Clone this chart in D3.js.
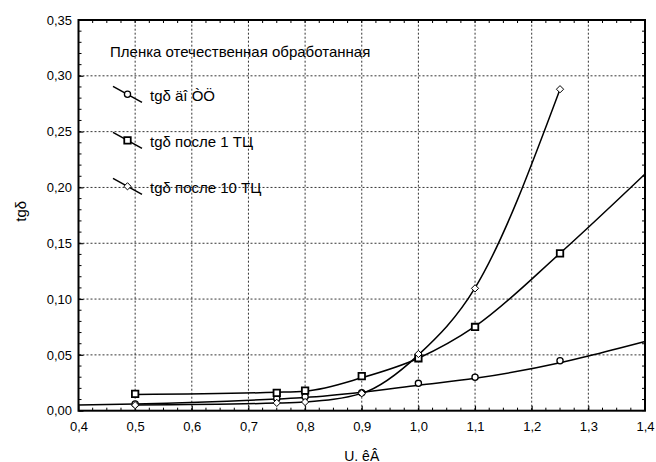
<!DOCTYPE html>
<html>
<head>
<meta charset="utf-8">
<script src="https://cdn.jsdelivr.net/npm/d3@7"></script>
<style>
  body { margin: 0; background: #fff; }
  svg { font-family: "Liberation Sans", Arial, sans-serif; }
</style>
</head>
<body>
<div id="chart"></div>
<script>
// measured points (markers)
const uPoints = [0.5, 0.75, 0.8, 0.9, 1.0, 1.1, 1.25];
const tgBefore = [0.006, 0.011, 0.0125, 0.016, 0.0245, 0.030, 0.0448];   // circles
const tgAfter1 = [0.015, 0.016, 0.018, 0.031, 0.047, 0.075, 0.141];      // squares
const tgAfter10 = [0.005, 0.007, 0.0078, 0.0156, 0.0508, 0.1096, 0.288]; // diamonds

// fitted curves
const fitBeforeU = [0.4, 0.5, 0.75, 0.8, 0.9, 1.0, 1.1, 1.25, 1.3, 1.4];
const fitBeforeTg = [0.005, 0.006, 0.0105, 0.0118, 0.0165, 0.0228, 0.029, 0.043, 0.049, 0.062];
const fitAfter1U = [0.5, 0.75, 0.8, 0.9, 1.0, 1.1, 1.25, 1.4];
const fitAfter1Tg = [0.0145, 0.0165, 0.0175, 0.0295, 0.047, 0.0755, 0.141, 0.212];
const fitAfter10U = [0.5, 0.75, 0.8, 0.9, 1.0, 1.1, 1.25];
const fitAfter10Tg = [0.005, 0.0068, 0.0078, 0.0155, 0.05, 0.11, 0.288];

const xTicks = [0.4, 0.5, 0.6, 0.7, 0.8, 0.9, 1.0, 1.1, 1.2, 1.3, 1.4];
const yTicks = [0, 0.05, 0.10, 0.15, 0.20, 0.25, 0.30, 0.35];

const legendTitle = "Пленка отечественная обработанная";
const seriesNames = ["tgδ äî ÒÖ", "tgδ после 1 ТЦ", "tgδ после 10 ТЦ"];
const xTitle = "U. êÂ";
const yTitle = "tgδ";

const width = 656, height = 462;
const margin = {left: 78.5, right: 11, top: 20, bottom: 51.3};

const svg = d3.select("#chart").append("svg")
  .attr("width", width)
  .attr("height", height);

const x = d3.scaleLinear().domain([0.4, 1.4]).range([margin.left, width - margin.right]);
const y = d3.scaleLinear().domain([0, 0.35]).range([height - margin.bottom, margin.top]);

const x0 = x.range()[0], x1 = x.range()[1];
const y0 = y.range()[0], y1 = y.range()[1];

// grid
const grid = svg.append("g")
  .attr("stroke", "#000")
  .attr("stroke-width", 0.8)
  .attr("stroke-dasharray", "2,2");
grid.selectAll(".gx").data(xTicks.slice(1, -1)).enter().append("line")
  .attr("x1", d => x(d)).attr("x2", d => x(d))
  .attr("y1", y0).attr("y2", y1);
grid.selectAll(".gy").data(yTicks.slice(1, -1)).enter().append("line")
  .attr("x1", x0).attr("x2", x1)
  .attr("y1", d => y(d)).attr("y2", d => y(d));

// minor ticks on all sides, pointing inward
const xMinor = d3.range(0, 41).map(i => 0.4 + i * 0.025);
const yMinor = d3.range(0, 36).map(i => i * 0.01);
const ticks = svg.append("g").attr("stroke", "#000").attr("stroke-width", 1);
ticks.selectAll(".mxb").data(xMinor).enter().append("line")
  .attr("x1", d => x(d)).attr("x2", d => x(d)).attr("y1", y0).attr("y2", y0 - 3);
ticks.selectAll(".mxt").data(xMinor).enter().append("line")
  .attr("x1", d => x(d)).attr("x2", d => x(d)).attr("y1", y1).attr("y2", y1 + 3);
ticks.selectAll(".myl").data(yMinor).enter().append("line")
  .attr("y1", d => y(d)).attr("y2", d => y(d)).attr("x1", x0).attr("x2", x0 + 3);
ticks.selectAll(".myr").data(yMinor).enter().append("line")
  .attr("y1", d => y(d)).attr("y2", d => y(d)).attr("x1", x1).attr("x2", x1 - 3);

// axes with labels
const fmtX = d => d3.format(".1f")(d).replace(".", ",");
const fmtY = d => d3.format(".2f")(d).replace(".", ",");

const xAxis = svg.append("g")
  .attr("transform", `translate(0,${y0})`)
  .call(d3.axisBottom(x).tickValues(xTicks).tickFormat(fmtX).tickSize(-5).tickPadding(11));
const yAxis = svg.append("g")
  .attr("transform", `translate(${x0},0)`)
  .call(d3.axisLeft(y).tickValues(yTicks).tickFormat(fmtY).tickSize(-5).tickPadding(6.5));
[xAxis, yAxis].forEach(a => {
  a.select(".domain").remove();
  a.selectAll("text").attr("font-size", 13).attr("fill", "#000")
    .attr("font-family", "'Liberation Sans', Arial, sans-serif");
  a.selectAll("line").attr("stroke-width", 1);
});

// frame
svg.append("rect")
  .attr("x", x0).attr("y", y1)
  .attr("width", x1 - x0).attr("height", y0 - y1)
  .attr("fill", "none").attr("stroke", "#000").attr("stroke-width", 2);

// curves
const line = d3.line()
  .x(d => x(d[0])).y(d => y(d[1]))
  .curve(d3.curveMonotoneX);

const curves = [
  d3.zip(fitBeforeU, fitBeforeTg),
  d3.zip(fitAfter1U, fitAfter1Tg),
  d3.zip(fitAfter10U, fitAfter10Tg)
];
svg.append("g").selectAll("path").data(curves).enter().append("path")
  .attr("d", line)
  .attr("fill", "none")
  .attr("stroke", "#000")
  .attr("stroke-width", 1.5);

// markers: circle, square, square diamond
const diamond = {
  draw(ctx, size) {
    const r = Math.sqrt(size / 2);
    ctx.moveTo(0, -r); ctx.lineTo(r, 0); ctx.lineTo(0, r); ctx.lineTo(-r, 0); ctx.closePath();
  }
};
const symbols = [
  {type: d3.symbolCircle, size: 30, sw: 1.3},
  {type: d3.symbolSquare, size: 42, sw: 1.8},
  {type: diamond, size: 26, sw: 1}
];
const seriesVals = [tgBefore, tgAfter1, tgAfter10];

seriesVals.forEach((vals, i) => {
  svg.append("g").selectAll("path").data(d3.zip(uPoints, vals)).enter().append("path")
    .attr("transform", d => `translate(${x(d[0])},${y(d[1])})`)
    .attr("d", d3.symbol().type(symbols[i].type).size(symbols[i].size))
    .attr("fill", "#fff")
    .attr("stroke", "#000")
    .attr("stroke-width", symbols[i].sw);
});

// legend
const legend = svg.append("g");
legend.append("text")
  .attr("x", 110).attr("y", 56.5)
  .attr("font-size", 15)
  .text(legendTitle);

seriesNames.forEach((name, i) => {
  const cy = 94.3 + i * 46;
  const cx = 127.5;
  const g = legend.append("g");
  g.append("line")
    .attr("x1", cx - 14.5).attr("y1", cy - 8)
    .attr("x2", cx + 14.5).attr("y2", cy + 8)
    .attr("stroke", "#000").attr("stroke-width", 1.5);
  g.append("path")
    .attr("transform", `translate(${cx},${cy})`)
    .attr("d", d3.symbol().type(symbols[i].type).size(symbols[i].size))
    .attr("fill", "#fff").attr("stroke", "#000").attr("stroke-width", symbols[i].sw);
  g.append("text")
    .attr("x", 150).attr("y", cy + 6.5)
    .attr("font-size", 15)
    .text(name);
});

// axis titles
svg.append("text")
  .attr("x", (x0 + x1) / 2).attr("y", 460.5)
  .attr("text-anchor", "middle")
  .attr("font-size", 14)
  .text(xTitle);

svg.append("text")
  .attr("transform", `translate(25.5,${(y0 + y1) / 2 - 4}) rotate(-90)`)
  .attr("text-anchor", "middle")
  .attr("font-size", 15)
  .text(yTitle);
</script>
</body>
</html>
